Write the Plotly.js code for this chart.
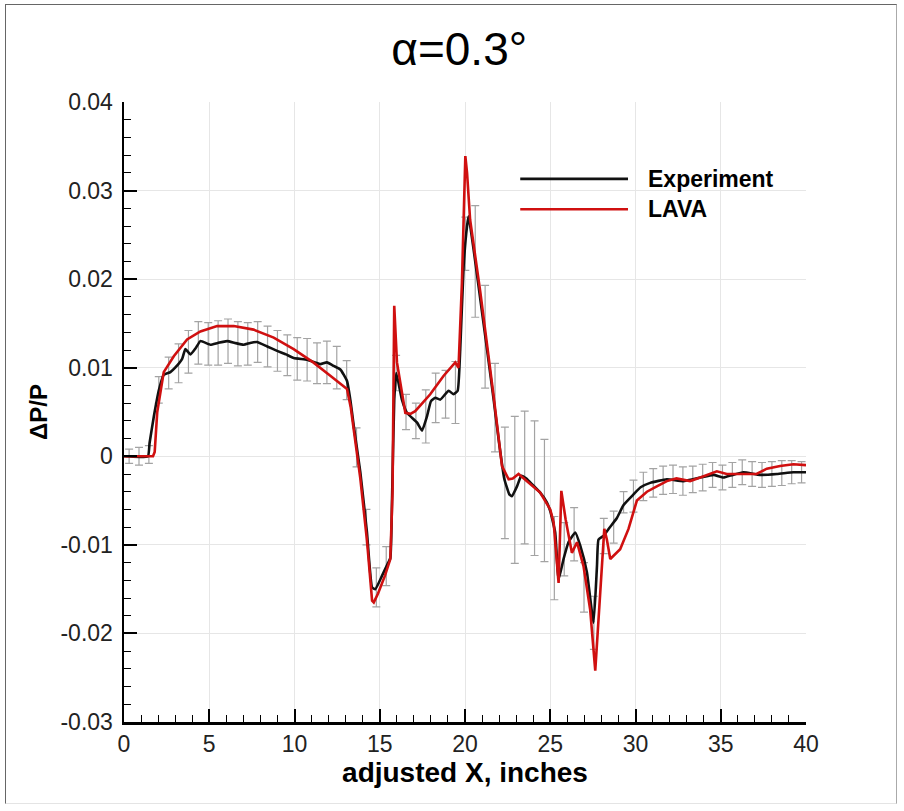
<!DOCTYPE html>
<html>
<head>
<meta charset="utf-8">
<script src="https://cdn.plot.ly/plotly-3.0.1.min.js"></script>
<style>
  html, body { margin: 0; padding: 0; background: #fff; }
  #frame { position: absolute; left: 5px; top: 4px; width: 892px; height: 800px;
           border-left: 1.5px solid #666; border-top: 1.5px solid #666;
           border-right: 1px solid #aaa; border-bottom: 1px solid #e4e4e4; box-sizing: border-box; }
  #chart { position: absolute; left: 0; top: 0; width: 904px; height: 811px; }
</style>
</head>
<body>
<div id="frame"></div>
<div id="chart"></div>
<script>
// ---------- Data ----------
const chartTitle = "α=0.3°";
const xTitle = "adjusted X, inches";
const yTitle = "ΔP/P";
const seriesNames = ["Experiment", "LAVA"];

const expX = [0, 1.4, 1.5, 1.75, 2.05, 2.33, 2.72, 3.0, 3.41, 3.6, 3.9, 4.2, 4.48, 5.07, 5.5, 6.05, 6.5, 7.02, 7.4, 7.8, 8.4, 8.98, 9.5, 9.95, 10.74, 11.2, 11.52, 11.9, 12.3, 12.69, 13.08, 13.28, 13.47, 13.86, 14.25, 14.55, 14.74, 15.13, 15.45, 15.62, 15.72, 15.85, 15.97, 16.3, 16.6, 17.19, 17.48, 17.77, 18.0, 18.26, 18.55, 19.04, 19.33, 19.57, 19.72, 19.92, 20.12, 20.21, 20.5, 20.9, 21.29, 21.68, 22.0, 22.3, 22.6, 22.75, 23.05, 23.3, 23.6, 24.0, 24.41, 24.8, 25.0, 25.29, 25.49, 25.78, 26.07, 26.47, 26.76, 27.15, 27.54, 27.74, 27.83, 28.12, 28.42, 28.9, 29.3, 29.89, 30.3, 30.86, 31.84, 32.8, 33.8, 34.57, 35.16, 35.7, 36.33, 37.3, 38.3, 39.26, 40];
const expY = [0, 0, 0.0015, 0.0045, 0.0075, 0.0092, 0.0095, 0.0100, 0.0110, 0.0121, 0.0115, 0.0122, 0.0130, 0.0126, 0.0128, 0.0130, 0.0128, 0.0126, 0.0128, 0.0129, 0.0124, 0.0119, 0.0115, 0.0111, 0.0109, 0.0106, 0.0104, 0.0106, 0.0102, 0.0098, 0.0085, 0.0063, 0.0035, -0.0018, -0.0086, -0.0148, -0.0150, -0.0135, -0.0122, -0.0115, -0.0049, 0.0064, 0.0094, 0.0064, 0.0049, 0.0038, 0.0029, 0.0045, 0.0062, 0.0066, 0.0064, 0.0074, 0.0070, 0.0074, 0.0121, 0.0215, 0.0260, 0.0271, 0.0234, 0.0177, 0.0121, 0.0064, 0.0015, -0.0025, -0.0043, -0.0045, -0.0034, -0.0022, -0.0025, -0.0033, -0.0041, -0.0052, -0.0062, -0.0086, -0.0139, -0.0116, -0.0097, -0.0086, -0.0101, -0.0131, -0.0188, -0.0124, -0.0094, -0.0090, -0.0082, -0.0070, -0.0055, -0.0043, -0.0035, -0.0030, -0.0026, -0.0028, -0.0024, -0.0021, -0.0024, -0.0021, -0.0018, -0.0021, -0.0020, -0.0018, -0.0018];

const lavaX = [0, 1.7, 1.8, 1.95, 2.33, 2.92, 3.7, 4.48, 5.46, 6.44, 7.6, 8.78, 9.95, 11.1, 12.1, 13.08, 13.3, 13.86, 14.25, 14.55, 14.65, 14.9, 15.3, 15.62, 15.75, 15.85, 16.01, 16.5, 16.8, 17.08, 17.5, 17.96, 18.75, 19.43, 19.62, 19.82, 20.02, 20.12, 20.3, 20.9, 21.68, 22.17, 22.56, 22.8, 23.14, 23.83, 24.41, 25.0, 25.2, 25.39, 25.49, 25.65, 25.9, 26.27, 26.57, 26.95, 27.34, 27.64, 27.93, 28.17, 28.32, 28.52, 29.1, 29.59, 30.08, 30.67, 31.25, 31.84, 32.4, 33.2, 33.8, 34.77, 35.35, 36.33, 37.1, 37.7, 38.48, 39.26, 40];
const lavaY = [0, 0, 0.0005, 0.0050, 0.0095, 0.0113, 0.0132, 0.0141, 0.0147, 0.0147, 0.0143, 0.0134, 0.0121, 0.0106, 0.0091, 0.0076, 0.0055, -0.0025, -0.0095, -0.0163, -0.0165, -0.0155, -0.0135, -0.0116, -0.0040, 0.0170, 0.0106, 0.0049, 0.0048, 0.0051, 0.0060, 0.0070, 0.0091, 0.0106, 0.0100, 0.0196, 0.0339, 0.0320, 0.0267, 0.0185, 0.0068, -0.0011, -0.0026, -0.0025, -0.0020, -0.0032, -0.0041, -0.0060, -0.0075, -0.0120, -0.0143, -0.0039, -0.0071, -0.0109, -0.0097, -0.0124, -0.0173, -0.0242, -0.0158, -0.0082, -0.0094, -0.0116, -0.0105, -0.0082, -0.0050, -0.0040, -0.0034, -0.0028, -0.0025, -0.0028, -0.0024, -0.0017, -0.0020, -0.0020, -0.0020, -0.0014, -0.0011, -0.0009, -0.0010];

// experiment error bars (location, centre, half-width)
const errX = [0.3, 0.88, 1.46, 2.04, 2.62, 3.2, 3.78, 4.36, 4.94, 5.52, 6.1, 6.68, 7.26, 7.84, 8.42, 9.0, 9.58, 10.16, 10.74, 11.32, 11.9, 12.48, 13.06, 13.64, 14.22, 14.8, 15.38, 15.96, 16.54, 17.12, 17.7, 18.28, 18.86, 19.44, 20.02, 20.6, 21.18, 21.76, 22.34, 22.92, 23.5, 24.08, 24.66, 25.24, 25.82, 26.4, 26.98, 27.56, 28.14, 28.72, 29.3, 29.88, 30.46, 31.04, 31.62, 32.2, 32.78, 33.36, 33.94, 34.52, 35.1, 35.68, 36.26, 36.84, 37.42, 38.0, 38.58, 39.16, 39.74];
const errY = [0, 0, 0.0002, 0.0075, 0.0094, 0.0105, 0.0118, 0.0128, 0.0127, 0.0128, 0.0130, 0.0127, 0.0127, 0.0129, 0.0124, 0.0119, 0.0114, 0.0110, 0.0109, 0.0105, 0.0106, 0.0100, 0.0086, 0.0010, -0.0080, -0.0148, -0.0124, 0.0094, 0.0050, 0.0040, 0.0045, 0.0066, 0.0070, 0.0072, 0.0240, 0.0220, 0.0135, 0.0055, -0.0030, -0.0038, -0.0024, -0.0036, -0.0050, -0.0115, -0.0105, -0.0088, -0.0148, -0.0188, -0.0090, -0.0080, -0.0052, -0.0045, -0.0034, -0.0030, -0.0027, -0.0026, -0.0028, -0.0026, -0.0024, -0.0021, -0.0024, -0.0021, -0.0018, -0.0020, -0.0021, -0.0020, -0.0019, -0.0018, -0.0018];
const errV = [0.0008, 0.0010, 0.0010, 0.0015, 0.0018, 0.0022, 0.0024, 0.0024, 0.0024, 0.0025, 0.0025, 0.0025, 0.0024, 0.0023, 0.0023, 0.0023, 0.0023, 0.0024, 0.0024, 0.0023, 0.0024, 0.0024, 0.0022, 0.0022, 0.0020, 0.0022, 0.0022, 0.0020, 0.0020, 0.0020, 0.0030, 0.0028, 0.0027, 0.0035, 0.0030, 0.0063, 0.0058, 0.0050, 0.0063, 0.0083, 0.0075, 0.0076, 0.0069, 0.0047, 0.0030, 0.0030, 0.0028, 0.0030, 0.0020, 0.0018, 0.0012, 0.0018, 0.0016, 0.0016, 0.0016, 0.0016, 0.0016, 0.0015, 0.0015, 0.0014, 0.0014, 0.0014, 0.0014, 0.0014, 0.0014, 0.0014, 0.0014, 0.0013, 0.0012];

const xTickVals = [0, 5, 10, 15, 20, 25, 30, 35, 40];
const xTickText = ["0", "5", "10", "15", "20", "25", "30", "35", "40"];
const yTickVals = [-0.03, -0.02, -0.01, 0, 0.01, 0.02, 0.03, 0.04];
const yTickText = ["-0.03", "-0.02", "-0.01", "0", "0.01", "0.02", "0.03", "0.04"];

// ---------- Chart ----------
const FONT = "Liberation Sans, Arial, Helvetica, sans-serif";
const BLACK = "#111111";
const RED = "#d01010";

const traces = [
  {
    x: errX, y: errY, type: "scatter", mode: "markers",
    marker: { size: 1, color: "rgba(0,0,0,0)" },
    error_y: { type: "data", array: errV, visible: true, color: "#a3a3a3", thickness: 1.2, width: 4 },
    showlegend: false, hoverinfo: "skip"
  },
  {
    x: expX, y: expY, type: "scatter", mode: "lines", name: seriesNames[0],
    line: { color: BLACK, width: 2.6, shape: "spline", smoothing: 0.4 }
  },
  {
    x: lavaX, y: lavaY, type: "scatter", mode: "lines", name: seriesNames[1],
    line: { color: RED, width: 2.6 }
  }
];

const axisCommon = {
  showline: true, linecolor: "#000", linewidth: 2.5,
  ticks: "inside", ticklen: 13, tickwidth: 2, tickcolor: "#000",
  showgrid: true, gridcolor: "#e6e6e6", gridwidth: 1,
  zeroline: false, mirror: false,
  tickfont: { family: FONT, size: 23, color: "#222" }
};

const layout = {
  width: 904, height: 811,
  paper_bgcolor: "rgba(0,0,0,0)", plot_bgcolor: "#fff",
  margin: { l: 124, r: 98, t: 102, b: 89 },
  showlegend: false,
  title: {
    text: chartTitle, font: { family: FONT, size: 46, color: "#000" },
    x: 0.508, xanchor: "center", xref: "container",
    y: 0.94, yanchor: "middle", yref: "container"
  },
  xaxis: Object.assign({}, axisCommon, {
    range: [0, 40], tickmode: "array", tickvals: xTickVals, ticktext: xTickText,
    minor: { tickmode: "linear", tick0: 0, dtick: 1, ticks: "inside", ticklen: 7, tickwidth: 1, tickcolor: "#000", showgrid: false },
    title: { text: xTitle, font: { family: FONT, size: 28, color: "#000", weight: "bold" }, standoff: 2 }
  }),
  yaxis: Object.assign({}, axisCommon, {
    range: [-0.03, 0.04], tickmode: "array", tickvals: yTickVals, ticktext: yTickText,
    ticklabelstandoff: 4,
    minor: { tickmode: "linear", tick0: 0, dtick: 0.002, ticks: "inside", ticklen: 7, tickwidth: 1, tickcolor: "#000", showgrid: false },
    title: { text: yTitle, font: { family: FONT, size: 24, color: "#000", weight: "bold" }, standoff: 6 }
  }),
  shapes: [
    { type: "line", xref: "paper", yref: "paper", x0: 0.581, x1: 0.739, y0: 0.876, y1: 0.876, line: { color: BLACK, width: 2.6 } },
    { type: "line", xref: "paper", yref: "paper", x0: 0.581, x1: 0.739, y0: 0.827, y1: 0.827, line: { color: RED, width: 2.6 } }
  ],
  annotations: [
    { xref: "paper", yref: "paper", x: 0.766, y: 0.876, xanchor: "left", yanchor: "middle", showarrow: false,
      text: seriesNames[0], font: { family: FONT, size: 23, color: "#000", weight: "bold" } },
    { xref: "paper", yref: "paper", x: 0.766, y: 0.827, xanchor: "left", yanchor: "middle", showarrow: false,
      text: seriesNames[1], font: { family: FONT, size: 23, color: "#000", weight: "bold" } }
  ]
};

Plotly.newPlot("chart", traces, layout, { displayModeBar: false, staticPlot: true });
</script>
</body>
</html>
